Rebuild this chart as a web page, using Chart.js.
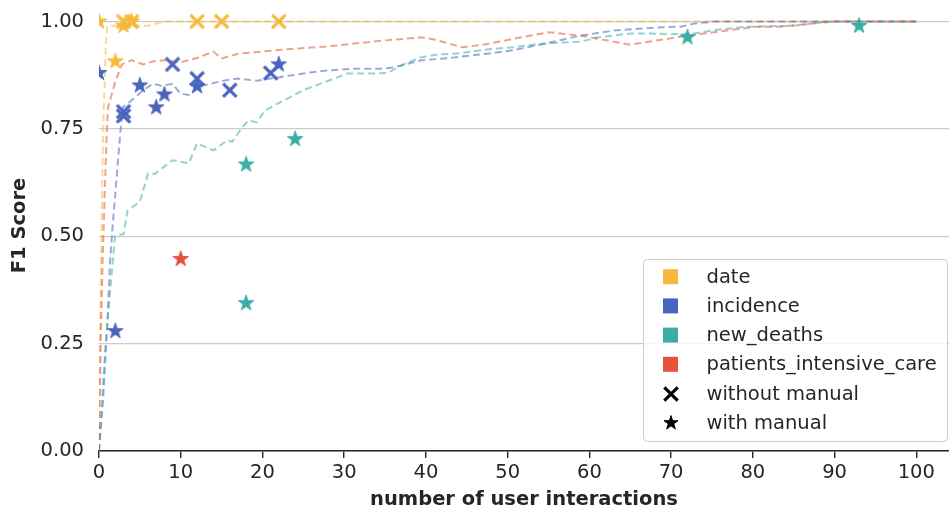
<!DOCTYPE html>
<html>
<head>
<meta charset="utf-8">
<script src="https://cdn.jsdelivr.net/npm/chart.js@4/dist/chart.umd.min.js"></script>
<style>
  html, body { margin: 0; padding: 0; background: #fff; }
  #wrap { width: 949px; height: 513px; position: relative; }
</style>
</head>
<body>
<div id="wrap"><canvas id="chart" width="949" height="513"></canvas></div>
<script>
// ---- series names ----
const seriesNames = ['date', 'incidence', 'new_deaths', 'patients_intensive_care'];
const markerNames = ['without manual', 'with manual'];

// ---- F1 score curves over number of user interactions ----
const dateCurveX = [0, 0.12, 0.25, 0.5, 0.85, 1, 3, 6, 8, 100];
const dateCurveY = [0, 0.26, 0.44, 0.74, 0.95, 0.99, 0.99, 0.99, 1.0, 1.0];

const incidenceCurveX = [0, 0.5, 1.0, 1.35, 1.65, 2.6, 2.9, 4.4, 5.4, 6.6, 7.7, 9, 9.9, 11.1, 12, 13.6, 15.2, 16.9, 19.3, 21, 23.4, 25.8, 27.9, 31, 34.4, 36, 39.3, 43.4, 47.5, 50.7, 54.9, 58.9, 63, 68.4, 71.2, 72.8, 75.3, 100];
const incidenceCurveY = [0, 0.12, 0.29, 0.44, 0.52, 0.74, 0.80, 0.823, 0.84, 0.855, 0.85, 0.855, 0.833, 0.828, 0.847, 0.855, 0.862, 0.867, 0.862, 0.867, 0.874, 0.881, 0.886, 0.89, 0.89, 0.893, 0.909, 0.916, 0.925, 0.933, 0.95, 0.967, 0.979, 0.986, 0.988, 0.995, 1.0, 1.0];

const deathsCurveX = [0, 0.4, 0.75, 1.35, 1.95, 3, 3.5, 5, 6, 6.8, 9, 11, 12, 14, 15.7, 16.3, 17.5, 18.3, 19.3, 20.3, 22.6, 25, 27.5, 30.4, 33.6, 35.3, 37, 39.3, 41.4, 44.2, 47.5, 50.7, 53.1, 56.4, 58.9, 61, 65, 67.8, 70, 72.8, 75.3, 79.3, 85, 87.4, 89.8, 100];
const deathsCurveY = [0, 0.12, 0.235, 0.37, 0.50, 0.505, 0.56, 0.58, 0.646, 0.645, 0.677, 0.67, 0.716, 0.70, 0.723, 0.72, 0.753, 0.77, 0.765, 0.793, 0.816, 0.84, 0.858, 0.879, 0.879, 0.88, 0.898, 0.916, 0.923, 0.926, 0.935, 0.94, 0.946, 0.951, 0.953, 0.963, 0.972, 0.972, 0.97, 0.972, 0.98, 0.988, 0.99, 0.995, 1.0, 1.0];

const icuCurveX = [0, 0.2, 0.45, 0.75, 0.95, 1.1, 2, 2.8, 4, 5.4, 6.6, 8, 10, 12, 14, 15, 17, 20, 24, 28, 31, 35, 39.5, 41, 44.5, 47, 55, 59, 65, 72, 80.5, 83.5, 89.5, 100];
const icuCurveY = [0, 0.25, 0.45, 0.63, 0.74, 0.80, 0.86, 0.90, 0.91, 0.90, 0.907, 0.91, 0.905, 0.915, 0.93, 0.914, 0.925, 0.93, 0.937, 0.942, 0.948, 0.956, 0.963, 0.958, 0.94, 0.946, 0.975, 0.967, 0.946, 0.967, 0.988, 0.988, 1.0, 1.0];

// ---- single runs (markers) ----
const dateWithoutX = [3, 4, 12, 15, 22];
const dateWithoutY = [1.0, 1.0, 1.0, 1.0, 1.0];
const dateWithX = [0, 2, 3, 4];
const dateWithY = [1.0, 0.907, 0.99, 1.0];

const incidenceWithoutX = [3, 3, 9, 12, 16, 21];
const incidenceWithoutY = [0.79, 0.78, 0.90, 0.867, 0.84, 0.88];
const incidenceWithX = [0, 2, 5, 7, 8, 12, 22];
const incidenceWithY = [0.88, 0.279, 0.851, 0.80, 0.83, 0.849, 0.90];

const deathsWithX = [18, 18, 24, 72, 93];
const deathsWithY = [0.667, 0.344, 0.726, 0.963, 0.99];

const icuWithX = [10];
const icuWithY = [0.447];

// ---- axis ticks ----
const xTickStep = 10;
const yTickStep = 0.25;

// ---- styling ----
const colors = {
  date: '#F6B93B',
  incidence: '#4A64BE',
  new_deaths: '#3AADA8',
  patients_intensive_care: '#E5533D'
};
const FONT = '"DejaVu Sans", Verdana, sans-serif';
const TEXT = '#262626';

function hexA(hex, a) {
  const n = parseInt(hex.slice(1), 16);
  return `rgba(${(n >> 16) & 255},${(n >> 8) & 255},${n & 255},${a})`;
}

function pts(xs, ys) { return xs.map((x, i) => ({ x, y: ys[i] })); }

// filled five-pointed star
function starMarker(color, R) {
  const size = 2 * Math.ceil(R + 2);
  const c = document.createElement('canvas');
  c.width = c.height = size;
  const g = c.getContext('2d');
  g.translate(size / 2, size / 2);
  g.beginPath();
  for (let i = 0; i < 10; i++) {
    const r = i % 2 ? R * 0.382 : R;
    const a = -Math.PI / 2 + i * Math.PI / 5;
    g.lineTo(r * Math.cos(a), r * Math.sin(a));
  }
  g.closePath();
  g.fillStyle = color; g.fill();
  g.lineWidth = 1; g.strokeStyle = color; g.lineJoin = 'round'; g.stroke();
  return c;
}

// thick diagonal cross
function crossMarker(color, h, lw) {
  const size = 2 * Math.ceil(h + lw + 1);
  const c = document.createElement('canvas');
  c.width = c.height = size;
  const g = c.getContext('2d');
  g.translate(size / 2, size / 2);
  g.beginPath();
  g.moveTo(-h, -h); g.lineTo(h, h);
  g.moveTo(-h, h); g.lineTo(h, -h);
  g.lineWidth = lw; g.lineCap = 'butt'; g.strokeStyle = color; g.stroke();
  return c;
}

const STAR_R = 8.2, CROSS_H = 6.7, CROSS_W = 3.2;

function curve(name, xs, ys, order) {
  return {
    type: 'line', label: name, data: pts(xs, ys),
    borderColor: hexA(colors[name], 0.55), borderWidth: 2, borderDash: [7, 4],
    pointRadius: 0, fill: false, tension: 0, clip: 0, order
  };
}
function markers(name, xs, ys, kind) {
  const img = kind === 'star' ? starMarker(colors[name], STAR_R) : crossMarker(colors[name], CROSS_H, CROSS_W);
  return {
    type: 'scatter', label: name + ' ' + kind, data: pts(xs, ys),
    pointStyle: img, pointRadius: 8, showLine: false, clip: 0, order: 0
  };
}

const datasets = [
  curve('date', dateCurveX, dateCurveY, 4),
  curve('incidence', incidenceCurveX, incidenceCurveY, 3),
  curve('new_deaths', deathsCurveX, deathsCurveY, 2),
  curve('patients_intensive_care', icuCurveX, icuCurveY, 1),
  markers('date', dateWithoutX, dateWithoutY, 'cross'),
  markers('date', dateWithX, dateWithY, 'star'),
  markers('incidence', incidenceWithoutX, incidenceWithoutY, 'cross'),
  markers('incidence', incidenceWithX, incidenceWithY, 'star'),
  markers('new_deaths', deathsWithX, deathsWithY, 'star'),
  markers('patients_intensive_care', icuWithX, icuWithY, 'star')
];

// legend box drawn inside the plot area, lower right
const boxLegend = {
  id: 'boxLegend',
  afterDraw(chart) {
    const ctx = chart.ctx;
    const x0 = 643, y0 = 259, w = 304, h = 182, r = 4;
    ctx.save();
    ctx.beginPath();
    ctx.roundRect(x0 + 0.5, y0 + 0.5, w, h, r);
    ctx.fillStyle = 'rgba(255,255,255,0.8)';
    ctx.fill();
    ctx.strokeStyle = '#cccccc';
    ctx.lineWidth = 1;
    ctx.stroke();

    const rowH = 29.2, firstY = 276.7, mx = 670.5, tx = 706.5;
    const entries = seriesNames.map(n => ({ label: n, kind: 'square', color: colors[n] }))
      .concat([{ label: markerNames[0], kind: 'cross', color: '#000' },
               { label: markerNames[1], kind: 'star', color: '#000' }]);
    ctx.font = '19.5px ' + FONT;
    ctx.textBaseline = 'middle';
    ctx.textAlign = 'left';
    entries.forEach((e, i) => {
      const cy = firstY + i * rowH;
      if (e.kind === 'square') {
        ctx.fillStyle = e.color;
        ctx.fillRect(mx - 7.5, cy - 7.5, 15, 15);
      } else {
        const img = e.kind === 'star' ? starMarker(e.color, 7.4) : crossMarker(e.color, CROSS_H, CROSS_W);
        ctx.drawImage(img, Math.round(mx - img.width / 2), Math.round(cy - img.height / 2));
      }
      ctx.fillStyle = TEXT;
      ctx.fillText(e.label, tx, cy + 1);
    });
    ctx.restore();
  }
};

new Chart(document.getElementById('chart'), {
  data: { datasets },
  plugins: [boxLegend],
  options: {
    responsive: false,
    animation: false,
    devicePixelRatio: 1,
    layout: { padding: 0, autoPadding: false },
    plugins: { legend: { display: false }, tooltip: { enabled: false } },
    scales: {
      x: {
        type: 'linear', min: 0, max: 104,
        ticks: {
          stepSize: xTickStep, includeBounds: false, padding: 3,
          color: TEXT, font: { family: FONT, size: 19.5 }, maxRotation: 0
        },
        grid: { drawOnChartArea: false, drawTicks: true, tickLength: 7, color: '#262626', lineWidth: 1.4 },
        border: { display: true, color: '#262626', width: 1.6 },
        title: {
          display: true, text: 'number of user interactions', color: TEXT,
          font: { family: FONT, size: 19.5, weight: 'bold' }, padding: { top: 0, bottom: 1 }
        },
        afterFit(s) { s.height = 62; s.paddingLeft = 0; s.paddingRight = 0; }
      },
      y: {
        type: 'linear', min: 0, max: 1.05,
        ticks: {
          stepSize: yTickStep, includeBounds: false, padding: 15,
          color: TEXT, font: { family: FONT, size: 19.5 },
          callback: v => Number(v).toFixed(2)
        },
        grid: { color: '#cccccc', lineWidth: 1.3, drawTicks: false },
        border: { display: false },
        title: {
          display: true, text: 'F1 Score', color: TEXT,
          font: { family: FONT, size: 19.5, weight: 'bold' }, padding: { top: 8, bottom: 0 }
        },
        afterFit(s) { s.width = 99; s.paddingTop = 0; s.paddingBottom = 0; }
      }
    }
  }
});
</script>
</body>
</html>
